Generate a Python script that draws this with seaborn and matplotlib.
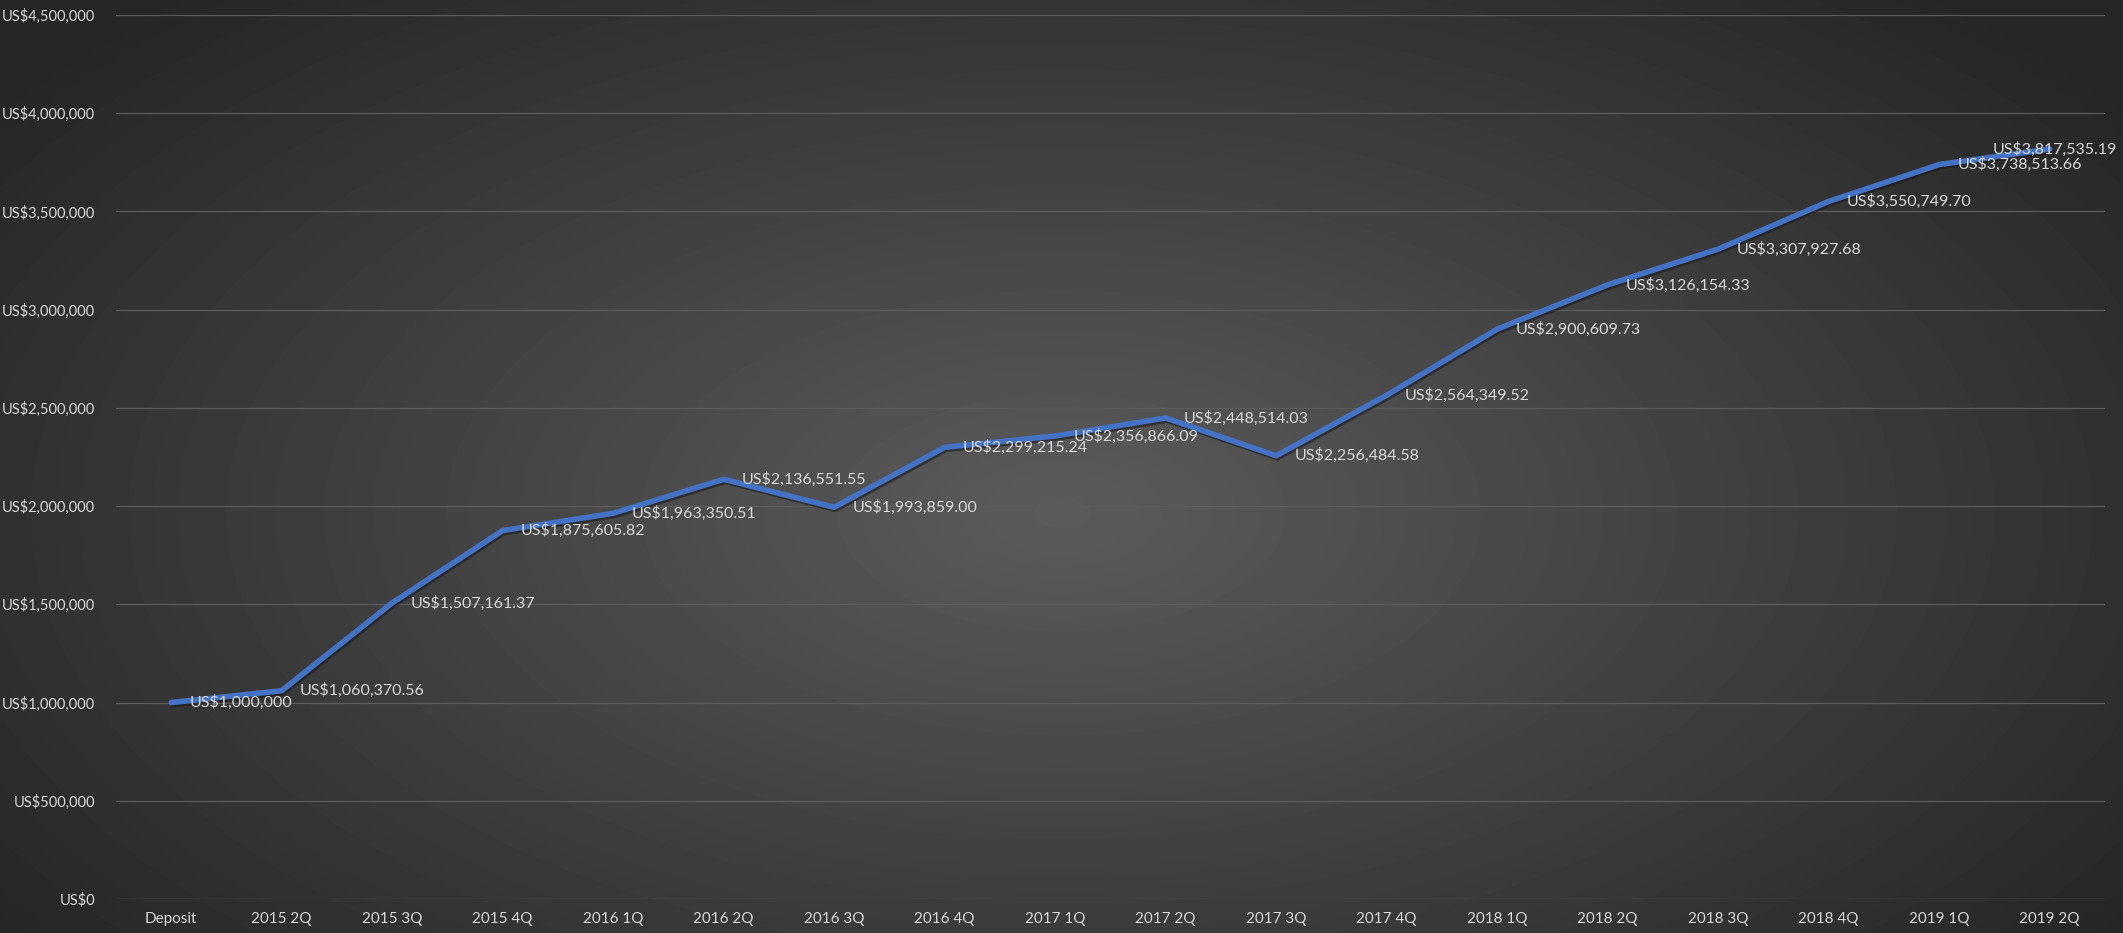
import numpy as np
import pandas as pd
import matplotlib
matplotlib.use('Agg')
import matplotlib.pyplot as plt
import matplotlib.patheffects as pe
from matplotlib.ticker import FuncFormatter, MultipleLocator
import seaborn as sns

# data
quarters = ['Deposit', '2015 2Q', '2015 3Q', '2015 4Q',
            '2016 1Q', '2016 2Q', '2016 3Q', '2016 4Q',
            '2017 1Q', '2017 2Q', '2017 3Q', '2017 4Q',
            '2018 1Q', '2018 2Q', '2018 3Q', '2018 4Q',
            '2019 1Q', '2019 2Q']
balance = [1000000.00, 1060370.56, 1507161.37, 1875605.82,
           1963350.51, 2136551.55, 1993859.00, 2299215.24,
           2356866.09, 2448514.03, 2256484.58, 2564349.52,
           2900609.73, 3126154.33, 3307927.68, 3550749.70,
           3738513.66, 3817535.19]
label_text = ['US$1,000,000'] + [f'US${v:,.2f}' for v in balance[1:]]

TEXT = '#d9d9d9'
LINE = '#4472c4'

sns.set_theme(style='dark')
plt.rcParams['font.family'] = ['Lato', 'DejaVu Sans']

df = pd.DataFrame({'idx': np.arange(len(quarters)), 'balance': balance})

fig = plt.figure(figsize=(21.23, 9.33), dpi=100)

# radial grey background like the office chart style
bg = fig.add_axes([0, 0, 1, 1], zorder=-10)
yy, xx = np.mgrid[0:1:300j, 0:1:700j]
r = np.sqrt(((xx - 0.5) / 0.62) ** 2 + ((yy - 0.55) / 0.75) ** 2)
shade = np.clip(0.36 - 0.21 * r, 0.15, 0.36)
bg.imshow(shade, cmap='gray', vmin=0, vmax=1, aspect='auto',
          extent=[0, 1, 0, 1], interpolation='bilinear')
bg.axis('off')

ax = fig.add_axes([0.0546, 0.0364, 0.9369, 0.9476])
ax.patch.set_alpha(0)

sns.lineplot(data=df, x='idx', y='balance', ax=ax, color=LINE, linewidth=4,
             solid_joinstyle='round', solid_capstyle='round',
             path_effects=[pe.SimpleLineShadow(offset=(1, -1.5), shadow_color='#1a1a1a', alpha=0.6),
                           pe.Normal()])

ax.set_xlim(-0.5, len(quarters) - 0.5)
ax.set_ylim(0, 4500000)
ax.yaxis.set_major_locator(MultipleLocator(500000))
ax.yaxis.set_major_formatter(FuncFormatter(lambda v, p: f'US${v:,.0f}'))
ax.set_xticks(df['idx'])
ax.set_xticklabels(quarters)
ax.tick_params(axis='both', length=0, colors=TEXT)
ax.tick_params(axis='y', pad=15, labelsize=10.5)
ax.tick_params(axis='x', pad=9, labelsize=11)
ax.set_xlabel('')
ax.set_ylabel('')
ax.grid(axis='y', color='#5c5c5c', linewidth=0.9)
ax.grid(axis='x', visible=False)
for s in ax.spines.values():
    s.set_visible(False)

# data labels to the right of each point; last one pulled inside the chart
for i, (v, t) in enumerate(zip(balance, label_text)):
    dx = 13 if i < len(balance) - 1 else -41
    ax.annotate(t, (i, v), xytext=(dx, 0), textcoords='offset points',
                ha='left', va='center', color=TEXT, fontsize=11.5)

fig.savefig('out.png', dpi=100)
